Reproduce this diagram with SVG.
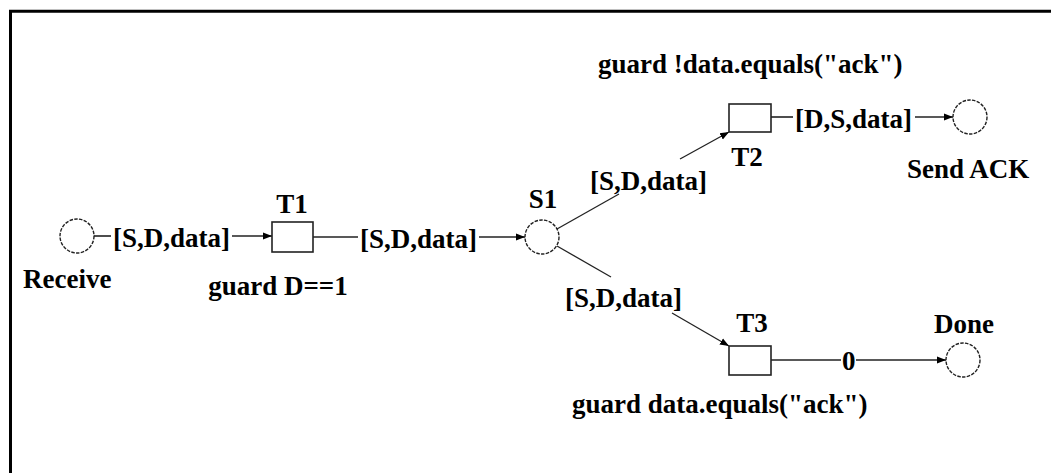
<svg xmlns="http://www.w3.org/2000/svg" width="1051" height="473" viewBox="0 0 1051 473">
<defs>
<style>
text{font-family:"Liberation Serif","Times New Roman",serif;font-weight:bold;font-size:27px;fill:#000}
.place{fill:#fff;stroke:#222;stroke-width:1.4;stroke-dasharray:3.5 1.3}
.trans{fill:#fff;stroke:#222;stroke-width:1.6}
.arc{fill:none;stroke:#222;stroke-width:1.6}
.arcd{fill:none;stroke:#222;stroke-width:1.3}
.mid{text-anchor:middle}
</style>
<marker id="ah" viewBox="0 0 10 10" refX="10" refY="5" markerWidth="9" markerHeight="9" markerUnits="userSpaceOnUse" orient="auto">
<path d="M0,1 L10,5 L0,9 Z" fill="#000"/>
</marker>
</defs>
<rect width="1051" height="473" fill="#fff"/>
<path d="M10.5,473 V11.2 H1051" fill="none" stroke="#000" stroke-width="3"/>

<g id="connectors">
<line class="arc" x1="94" y1="236" x2="111" y2="236"/>
<text x="113" y="247">[S,D,data]</text>
<line class="arc" x1="232" y1="236" x2="272" y2="236" marker-end="url(#ah)"/>

<line class="arc" x1="313" y1="237" x2="358" y2="237"/>
<text x="360" y="248">[S,D,data]</text>
<line class="arc" x1="479" y1="237" x2="525" y2="237" marker-end="url(#ah)"/>

<line class="arcd" x1="557" y1="229" x2="619" y2="194"/>
<text x="590" y="190">[S,D,data]</text>
<line class="arcd" x1="680" y1="159" x2="729" y2="132" marker-end="url(#ah)"/>

<line class="arc" x1="771" y1="117" x2="793" y2="117"/>
<text x="795" y="128">[D,S,data]</text>
<line class="arc" x1="915" y1="117" x2="953" y2="117" marker-end="url(#ah)"/>

<line class="arcd" x1="557" y1="246" x2="611" y2="277"/>
<text x="565" y="307">[S,D,data]</text>
<line class="arcd" x1="672" y1="313" x2="729" y2="346" marker-end="url(#ah)"/>

<line class="arc" x1="771" y1="360" x2="841" y2="360"/>
<text x="842" y="370">0</text>
<line class="arc" x1="856" y1="360" x2="946" y2="360" marker-end="url(#ah)"/>
</g>

<g id="Receive">
<circle class="place" cx="77" cy="236" r="17"/>
<text x="23" y="288">Receive</text>
</g>
<g id="T1">
<rect class="trans" x="272" y="222" width="41" height="30"/>
<text class="mid" x="292" y="213">T1</text>
<text class="mid" x="278" y="295">guard D==1</text>
</g>
<g id="S1">
<circle class="place" cx="542" cy="237" r="17"/>
<text class="mid" x="543" y="208">S1</text>
</g>
<g id="T2">
<rect class="trans" x="729" y="104" width="42" height="28"/>
<text class="mid" x="747" y="166">T2</text>
<text x="598" y="73">guard !data.equals("ack")</text>
</g>
<g id="SendACK">
<circle class="place" cx="970" cy="117" r="17"/>
<text x="907" y="178">Send ACK</text>
</g>
<g id="T3">
<rect class="trans" x="729" y="346" width="42" height="29"/>
<text class="mid" x="752" y="332">T3</text>
<text x="572" y="413">guard data.equals("ack")</text>
</g>
<g id="Done">
<circle class="place" cx="963" cy="360" r="17"/>
<text class="mid" x="964" y="333">Done</text>
</g>
</svg>
